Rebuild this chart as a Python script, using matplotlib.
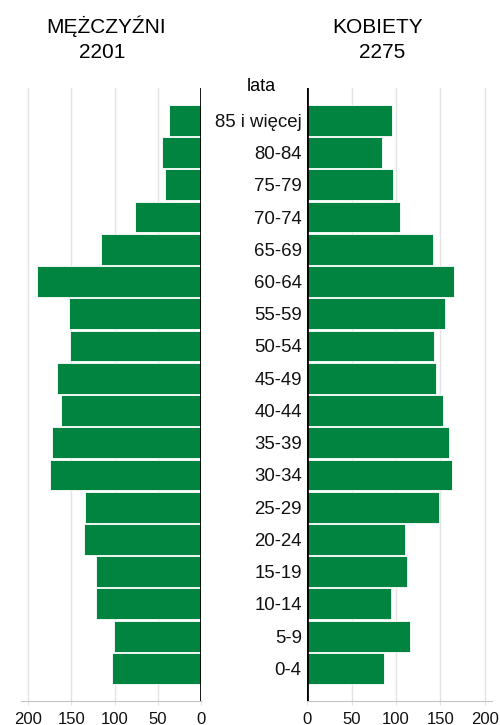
import matplotlib
matplotlib.use("Agg")
import matplotlib.pyplot as plt

plt.rcParams["font.family"] = ["Liberation Sans", "DejaVu Sans"]

# --------------------------------------------------
# DATA (from bottom 0-4 to top 85+)
# --------------------------------------------------
age_groups = ["0-4", "5-9", "10-14", "15-19", "20-24", "25-29", "30-34",
              "35-39", "40-44", "45-49", "50-54", "55-59", "60-64",
              "65-69", "70-74", "75-79", "80-84", "85 i więcej"]
men = [103, 101, 121, 121, 135, 134, 175, 172, 162, 167, 151, 153, 189,
       116, 77, 42, 45, 37]
women = [87, 116, 94, 113, 110, 148, 163, 160, 153, 145, 143, 155, 165,
         142, 104, 97, 84, 96]
men_total = 2201
women_total = 2275
xticks = [0, 50, 100, 150, 200]

GREEN = "#00843f"
GRID = "#e3e3e3"

fig = plt.figure(figsize=(5, 7.25), dpi=100)
ax_l = fig.add_axes([0.042, 0.0335, 0.361, 0.8451])
ax_r = fig.add_axes([0.6146, 0.0335, 0.3688, 0.8451])

pos = list(range(len(age_groups)))

for ax, vals in [(ax_l, men), (ax_r, women)]:
    ax.barh(pos, vals, height=0.96, color=GREEN, edgecolor="white",
            linewidth=0.6, zorder=2)
    ax.set_ylim(-1, len(age_groups))
    ax.set_xticks(xticks)
    ax.set_xticklabels([str(t) for t in xticks], fontsize=12)
    ax.grid(axis="x", color=GRID, linewidth=1, zorder=0)
    ax.axvline(0, color="black", linewidth=2, zorder=3)
    for s in ["top", "left", "right"]:
        ax.spines[s].set_visible(False)
    ax.spines["bottom"].set_color("#c4c4c4")
    ax.tick_params(axis="x", length=3, color=GRID, pad=5, labelcolor="#111111")

ax_l.set_xlim(208, 0)
ax_l.set_yticks([])

ax_r.set_xlim(0, 208)
ax_r.set_yticks(pos)
ax_r.set_yticklabels(age_groups, fontsize=13.4)
ax_r.tick_params(axis="y", length=0, pad=4, labelcolor="#111111")

# titles
fig.text(0.213, 0.954, "MĘŻCZYŹNI", ha="center", va="baseline", fontsize=15)
fig.text(0.205, 0.9196, str(men_total), ha="center", va="baseline", fontsize=15)
fig.text(0.755, 0.954, "KOBIETY", ha="center", va="baseline", fontsize=15)
fig.text(0.764, 0.9196, str(women_total), ha="center", va="baseline", fontsize=15)
fig.text(0.522, 0.874, "lata", ha="center", va="baseline", fontsize=13)

fig.savefig("out.png", dpi=100)
